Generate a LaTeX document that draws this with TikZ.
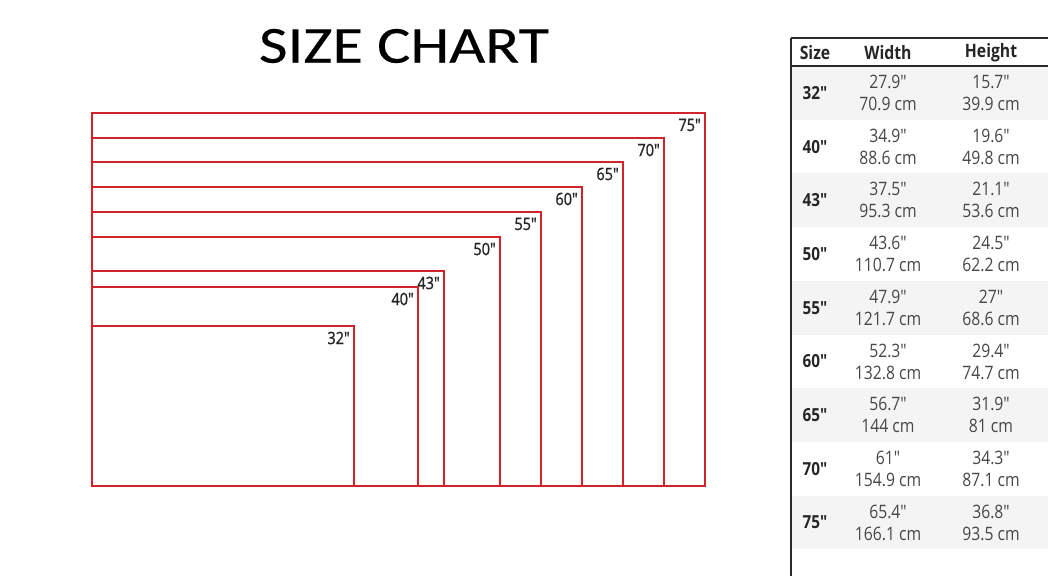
\documentclass[tikz,border=0pt]{standalone}
\usepackage{fontspec}
\setmainfont{Open Sans}
\newfontfamily\titlefont[FakeStretch=1.2,FakeBold=0.3]{Carlito}
\newfontfamily\tabfont[FakeStretch=0.85]{Open Sans}
\newfontfamily\labfont[FakeStretch=0.85,FakeBold=1.2]{Open Sans}
\definecolor{chartred}{HTML}{D2232A}
\definecolor{rowgray}{HTML}{F4F4F4}
\definecolor{rulegray}{HTML}{2A2A2A}
\tikzset{
  screen/.style={draw=chartred, line width=2.4pt},
  sizelabel/.style={anchor=east, inner sep=0pt, font=\labfont\fontsize{17}{17}\selectfont, text=black!85},
  headcell/.style={inner sep=0pt, font=\tabfont\bfseries\fontsize{18.5}{18.5}\selectfont, text=black!85},
  sizecell/.style={inner sep=0pt, font=\tabfont\bfseries\fontsize{18}{18}\selectfont, text=black!85},
  valcell/.style={inner sep=0pt, font=\tabfont\fontsize{18.5}{18.5}\selectfont, text=black!72},
}
\begin{document}
\begin{tikzpicture}[x=1pt,y=-1pt]
\useasboundingbox (0,0) rectangle (1058,576);
\fill[white] (0,0) rectangle (1058,576);
% title
\node[inner sep=0pt, font=\titlefont\fontsize{52}{52}\selectfont] (title) at (404,46) {SIZE CHART};
% rectangles
\foreach \n/\r/\t in {75/705/113,70/664/138,65/623/162,60/582/187,55/541/212,50/500/237,43/444/271,40/418/287,32/354/326}{
  \draw[screen] (92,486) rectangle (\r,\t);
  \node[sizelabel] (lab\n) at (\r-4,\t+12) {\n"};
}
% table stripes
\foreach \i in {0,2,4,6,8}{
  \fill[rowgray] (792,66+53.7*\i) rectangle (1048,66+53.7*\i+53.7);
}
% table rules
\draw[rulegray, line width=1.6pt] (791,38) -- (1048,38);
\draw[rulegray, line width=1.8pt] (791,66) -- (1048,66);
\draw[rulegray, line width=1.4pt] (791,38) -- (791,576);
% header
\node[headcell] (hsize) at (815,52.5) {Size};
\node[headcell] (hwidth) at (888,52.5) {Width};
\node[headcell] (hheight) at (991,52.5) {Height};
% rows
\foreach \s/\wi/\wc/\hi/\hc [count=\k from 0] in {
  32/27.9/70.9/15.7/39.9,
  40/34.9/88.6/19.6/49.8,
  43/37.5/95.3/21.1/53.6,
  50/43.6/110.7/24.5/62.2,
  55/47.9/121.7/27/68.6,
  60/52.3/132.8/29.4/74.7,
  65/56.7/144/31.9/81,
  70/61/154.9/34.3/87.1,
  75/65.4/166.1/36.8/93.5}{
  \pgfmathsetmacro{\cy}{93+53.7*\k}
  \node[sizecell] (s\s) at (815,\cy) {\s"};
  \node[valcell] (wi\s) at (888,\cy-11) {\wi"};
  \node[valcell] (wc\s) at (888,\cy+11) {\wc\ cm};
  \node[valcell] (hi\s) at (991,\cy-11) {\hi"};
  \node[valcell] (hc\s) at (991,\cy+11) {\hc\ cm};
}
\end{tikzpicture}
\end{document}
